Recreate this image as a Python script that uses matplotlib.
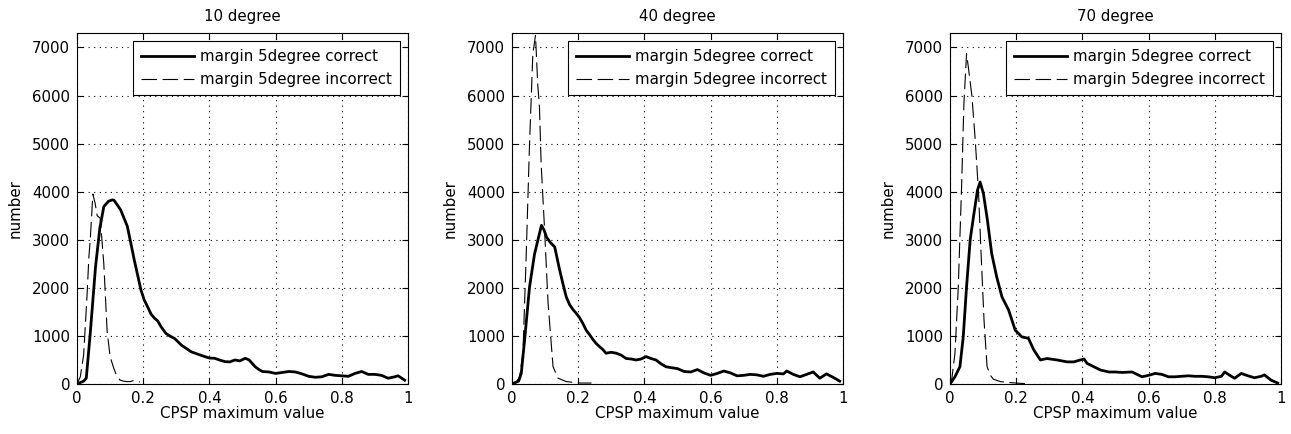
import matplotlib
matplotlib.use("Agg")
import matplotlib.pyplot as plt

plt.rcParams["font.family"] = ["DejaVu Sans"]
plt.rcParams["font.size"] = 10.8

titles = ["10 degree", "40 degree", "70 degree"]
legend_labels = ["margin 5degree correct", "margin 5degree incorrect"]

# 10 degree
x_c10 = [0, 0.02, 0.028, 0.04, 0.056, 0.069, 0.081, 0.095, 0.107, 0.112, 0.122, 0.132,
         0.142, 0.152, 0.162, 0.173, 0.183, 0.193, 0.203, 0.213, 0.224, 0.234, 0.244,
         0.254, 0.269, 0.28, 0.294, 0.305, 0.315, 0.33, 0.345, 0.365, 0.386, 0.4,
         0.416, 0.43, 0.447, 0.462, 0.477, 0.492, 0.508, 0.52, 0.538, 0.55, 0.56,
         0.58, 0.6, 0.62, 0.64, 0.66, 0.68, 0.7, 0.72, 0.74, 0.76, 0.78, 0.8, 0.82,
         0.84, 0.86, 0.88, 0.9, 0.92, 0.94, 0.96, 0.97, 0.99]
y_c10 = [0, 60, 120, 1050, 2440, 3240, 3690, 3800, 3830, 3820, 3720, 3620,
         3450, 3280, 2950, 2580, 2270, 1960, 1750, 1610, 1450, 1370, 1310,
         1190, 1050, 1000, 950, 880, 810, 740, 670, 620, 570, 540,
         535, 500, 465, 460, 500, 480, 535, 500, 360, 300, 260,
         250, 220, 240, 260, 250, 210, 160, 140, 150, 200, 180, 170, 160,
         220, 260, 200, 200, 180, 120, 150, 170, 80]
x_i10 = [0, 0.01, 0.02, 0.03, 0.036, 0.04, 0.048, 0.055, 0.061, 0.07, 0.081, 0.091,
         0.1, 0.11, 0.117, 0.13, 0.14, 0.15, 0.16, 0.17, 0.18, 0.19]
y_i10 = [0, 150, 600, 1800, 2650, 3000, 3950, 3750, 3500, 3450, 2500, 1100,
         570, 350, 220, 80, 60, 50, 50, 70, 60, 40]

# 40 degree
x_c40 = [0, 0.02, 0.028, 0.038, 0.053, 0.068, 0.083, 0.089, 0.097, 0.104, 0.115,
         0.129, 0.144, 0.154, 0.164, 0.174, 0.184, 0.194, 0.204, 0.214, 0.224,
         0.234, 0.244, 0.254, 0.264, 0.274, 0.284, 0.3, 0.315, 0.33, 0.345, 0.36,
         0.375, 0.39, 0.405, 0.42, 0.435, 0.45, 0.465, 0.48, 0.5, 0.52, 0.54, 0.56,
         0.58, 0.6, 0.62, 0.64, 0.66, 0.68, 0.7, 0.72, 0.74, 0.76, 0.78, 0.8, 0.82,
         0.83, 0.85, 0.87, 0.89, 0.91, 0.93, 0.95, 0.97, 0.99]
y_c40 = [0, 60, 220, 910, 2020, 2700, 3130, 3300, 3200, 3060, 2950,
         2850, 2370, 2080, 1810, 1650, 1550, 1470, 1380, 1260, 1120,
         1030, 930, 845, 780, 720, 640, 660, 640, 600, 530, 520,
         500, 520, 570, 530, 500, 420, 360, 340, 320, 260, 250, 300,
         230, 180, 220, 270, 230, 170, 180, 200, 190, 160, 200, 220, 210,
         270, 200, 150, 200, 250, 120, 210, 140, 60]
x_i40 = [0, 0.013, 0.023, 0.033, 0.043, 0.053, 0.063, 0.071, 0.078, 0.083, 0.088,
         0.098, 0.109, 0.124, 0.139, 0.164, 0.19, 0.2, 0.22, 0.24]
y_i40 = [0, 40, 150, 640, 2700, 5000, 6870, 7250, 6200, 5760, 4580,
         3270, 1680, 360, 120, 50, 30, 20, 20, 20]

# 70 degree
x_c70 = [0, 0.015, 0.03, 0.04, 0.05, 0.061, 0.071, 0.083, 0.091, 0.101, 0.113,
         0.126, 0.141, 0.157, 0.177, 0.197, 0.217, 0.237, 0.253, 0.273, 0.293,
         0.323, 0.354, 0.374, 0.394, 0.405, 0.414, 0.434, 0.455, 0.48, 0.5, 0.52,
         0.55, 0.58, 0.6, 0.62, 0.64, 0.66, 0.68, 0.7, 0.72, 0.74, 0.76, 0.78,
         0.8, 0.82, 0.83, 0.85, 0.86, 0.88, 0.9, 0.92, 0.94, 0.95, 0.97, 0.99]
y_c70 = [0, 150, 360, 980, 2020, 3000, 3480, 4030, 4200, 3960, 3410,
         2710, 2230, 1810, 1540, 1120, 980, 950, 710, 500, 530,
         500, 460, 460, 500, 520, 430, 360, 290, 250, 250, 240,
         250, 150, 180, 220, 200, 150, 150, 160, 170, 160, 160, 150,
         130, 160, 250, 160, 120, 220, 170, 130, 160, 190, 80, 20]
x_i70 = [0, 0.005, 0.015, 0.025, 0.035, 0.042, 0.05, 0.056, 0.066, 0.076, 0.086,
         0.094, 0.103, 0.112, 0.122, 0.131, 0.152, 0.18, 0.2, 0.22, 0.24]
y_i70 = [0, 80, 640, 2020, 4100, 5830, 6870, 6560, 6000, 5100, 4000,
         2700, 1300, 360, 180, 100, 50, 30, 20, 10, 10]

correct = [(x_c10, y_c10), (x_c40, y_c40), (x_c70, y_c70)]
incorrect = [(x_i10, y_i10), (x_i40, y_i40), (x_i70, y_i70)]

fig = plt.figure(figsize=(12.91, 4.34), dpi=100)
lefts = [77 / 1291, 512 / 1291, 950 / 1291]
w = 331 / 1291
b = 1 - 384 / 434
h = 351 / 434

for k in range(3):
    ax = fig.add_axes([lefts[k], b, w, h])
    ax.plot(*correct[k], color="black", lw=2.0, label=legend_labels[0])
    ax.plot(*incorrect[k], color="black", lw=0.8, dashes=(14, 5),
            label=legend_labels[1])
    ax.set_xlim(0, 1)
    ax.set_ylim(0, 7300)
    ax.set_xticks([0, 0.2, 0.4, 0.6, 0.8, 1])
    ax.set_xticklabels(["0", "0.2", "0.4", "0.6", "0.8", "1"])
    ax.set_yticks(range(0, 7001, 1000))
    ax.grid(True, color="black", linestyle=(0, (1, 4)), linewidth=0.8)
    ax.tick_params(direction="in", length=4, top=True, right=True,
                   labelsize=10.8, pad=5)
    for s in ax.spines.values():
        s.set_linewidth(0.8)
    ax.set_title(titles[k], fontsize=10.8, pad=9)
    ax.set_xlabel("CPSP maximum value", fontsize=10.8, labelpad=0)
    ax.set_ylabel("number", fontsize=10.8, labelpad=7)
    leg = ax.legend(loc="upper right", fontsize=10.8, handlelength=3.5,
                    fancybox=False, framealpha=1, edgecolor="black",
                    borderaxespad=0.55, borderpad=0.55, labelspacing=0.5,
                    handletextpad=0.4)
    leg.get_frame().set_linewidth(0.8)

fig.savefig("out.png", dpi=100)
